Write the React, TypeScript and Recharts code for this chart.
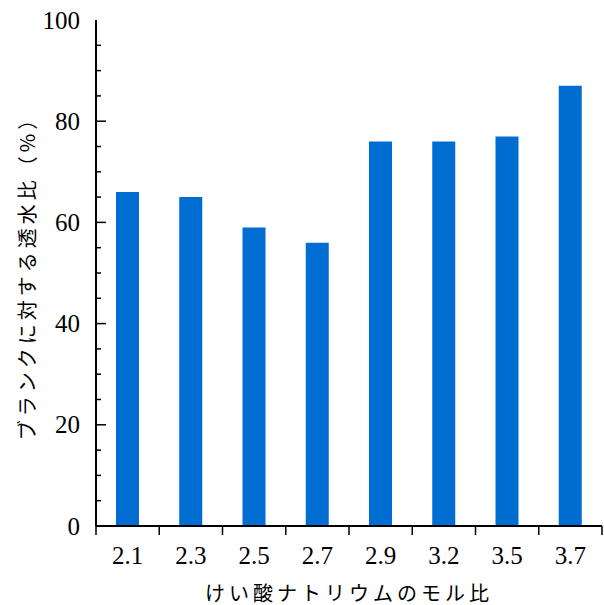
import React from 'react';
import { BarChart, Bar, XAxis, YAxis } from 'recharts';

const categories = ['2.1', '2.3', '2.5', '2.7', '2.9', '3.2', '3.5', '3.7'];
const ratios = [66, 65, 59, 56, 76, 76, 77, 87];
const yTicks = [0, 5, 10, 15, 20, 25, 30, 35, 40, 45, 50, 55, 60, 65, 70, 75, 80, 85, 90, 95, 100];
const xTitle = 'けい酸ナトリウムのモル比';
const yTitle = 'ブランクに対する透水比（%）';

const data = categories.map((c, i) => ({ name: c, value: ratios[i] }));

const W = 604;
const H = 605;
const LEFT = 96;
const RIGHT_M = 2;
const TOP = 20;
const XAXIS_H = 79;
const PLOT_W = W - LEFT - RIGHT_M;
const BAND = PLOT_W / categories.length;

const serif = "'Liberation Serif', 'Times New Roman', serif";
const jp = "'Noto Sans CJK JP', 'Noto Sans', sans-serif";

const YTick = (props: any) => {
  const { x, y, payload } = props;
  const v = payload.value;
  const major = v % 20 === 0;
  return (
    <g>
      {v !== 0 && v !== 100 && (
        <line x1={x} x2={x + (major ? 10 : 5)} y1={y} y2={y} stroke="#000" strokeWidth={1.5} />
      )}
      {major && (
        <text x={x - 16} y={y} textAnchor="end" dominantBaseline="central" style={{ fontFamily: serif, fontSize: 25 }} fill="#000">
          {v}
        </text>
      )}
    </g>
  );
};

const XTick = (props: any) => {
  const { x, y, payload, index } = props;
  const last = index === categories.length - 1;
  return (
    <g>
      <line x1={x - BAND / 2} x2={x - BAND / 2} y1={y} y2={y + 9} stroke="#000" strokeWidth={1.5} />
      {last && <line x1={x + BAND / 2} x2={x + BAND / 2} y1={y} y2={y + 9} stroke="#000" strokeWidth={1.5} />}
      <text x={x} y={y + 29} textAnchor="middle" dominantBaseline="central" style={{ fontFamily: serif, fontSize: 25 }} fill="#000">
        {payload.value}
      </text>
    </g>
  );
};

const XLabel = (props: any) => {
  const vb = props.viewBox || {};
  return (
    <text x={vb.x + vb.width / 2} y={592} textAnchor="middle" dominantBaseline="central" style={{ fontFamily: jp, fontSize: 20, letterSpacing: 4 }} fill="#000">
      {xTitle}
    </text>
  );
};

const YLabel = (props: any) => {
  const vb = props.viewBox || {};
  const cx = 26;
  const cy = vb.y + vb.height / 2;
  return (
    <text x={cx} y={cy} transform={`rotate(-90, ${cx}, ${cy})`} textAnchor="middle" dominantBaseline="central" style={{ fontFamily: jp, fontSize: 20, letterSpacing: 4 }} fill="#000">
      {yTitle}
    </text>
  );
};

export default function App() {
  return (
    <div style={{ position: 'absolute', left: 0, top: 0, width: W, height: H, background: '#fff' }}>
      <BarChart width={W} height={H} data={data} margin={{ top: TOP, right: RIGHT_M, bottom: 0, left: 0 }} barCategoryGap={0}>
        <XAxis
          xAxisId="main"
          dataKey="name"
          height={XAXIS_H}
          axisLine={{ stroke: '#000', strokeWidth: 2 }}
          tickLine={false}
          tickSize={0}
          tickMargin={0}
          tick={<XTick />}
          interval={0}
          label={<XLabel />}
        />
        <XAxis xAxisId="top" orientation="top" dataKey="name" height={0} axisLine={{ stroke: '#000', strokeWidth: 2 }} tick={false} tickLine={false} />
        <YAxis
          yAxisId="main"
          width={LEFT}
          domain={[0, 100]}
          ticks={yTicks}
          interval={0}
          axisLine={{ stroke: '#000', strokeWidth: 2 }}
          tickLine={false}
          tickSize={0}
          tickMargin={0}
          tick={<YTick />}
          label={<YLabel />}
        />
        <YAxis yAxisId="right" orientation="right" width={0} domain={[0, 100]} axisLine={{ stroke: '#000', strokeWidth: 2 }} tick={false} tickLine={false} />
        <Bar xAxisId="main" yAxisId="main" dataKey="value" fill="#006dd3" barSize={23} isAnimationActive={false} />
      </BarChart>
    </div>
  );
}
